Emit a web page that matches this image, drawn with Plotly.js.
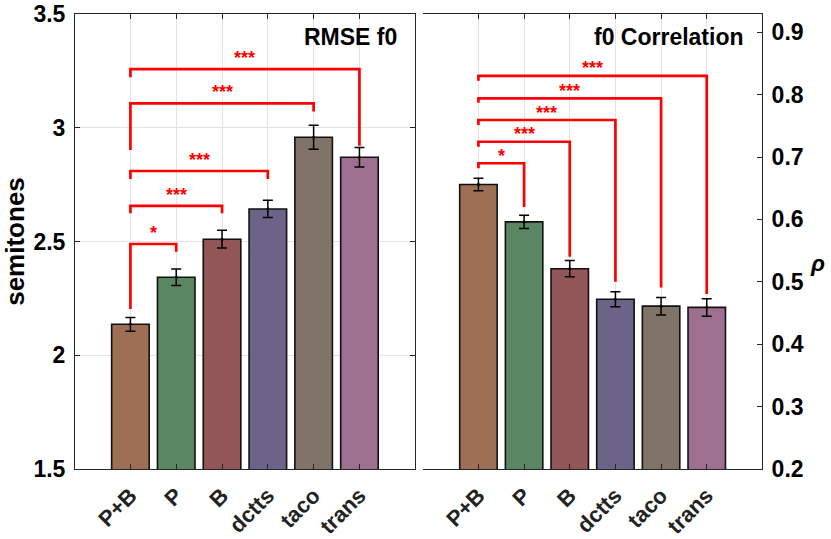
<!DOCTYPE html>
<html>
<head>
<meta charset="utf-8">
<script src="https://cdn.plot.ly/plotly-3.0.1.min.js"></script>
<style>
  html, body { margin: 0; padding: 0; background: #fff; }
  #graph { width: 831px; height: 539px; }
</style>
</head>
<body>
<div id="graph"></div>
<script>
/* ---------------- DATA ---------------- */
const systems = ["P+B", "P", "B", "dctts", "taco", "trans"];
const barColors = ["#9d7056", "#5a8662", "#925558", "#6c6488", "#807367", "#9e708f"];

// RMSE f0 (semitones)
const rmseMean = [2.136, 2.343, 2.510, 2.643, 2.958, 2.870];
const rmseErr  = [0.030, 0.036, 0.039, 0.038, 0.053, 0.043];

// f0 correlation (rho)
const corrMean = [0.656, 0.596, 0.521, 0.472, 0.461, 0.459];
const corrErr  = [0.010, 0.0105, 0.013, 0.012, 0.014, 0.014];

// significance brackets: P+B against P, B, dctts, taco, trans
const sigStars = ["*", "***", "***", "***", "***"];
const rmseSigTop   = [2.489, 2.657, 2.810, 3.107, 3.258];
const rmseSigLeft  = [2.203, 2.624, 2.775, 2.902, 3.222];
const rmseSigRight = [2.455, 2.624, 2.775, 3.071, 2.921];
const corrSigTop   = [0.690, 0.7245, 0.7593, 0.794, 0.830];
const corrSigLeft  = [0.682, 0.7165, 0.7513, 0.787, 0.8223];
const corrSigRight = [0.620, 0.540, 0.500, 0.491, 0.4804];

/* ---------------- STYLE ---------------- */
const FONT = "Liberation Sans, Arial, sans-serif";
const AXC = "#262626";
const GRID = "#e3e3e3";
const RED = "#ff0000";

/* ---------------- TRACES ---------------- */
const traces = [];

function addPanel(means, errs, xa, ya, sigTop, sigLeft, sigRight) {
  traces.push({
    type: "bar",
    x: systems,
    y: means,
    width: 0.82,
    xaxis: xa, yaxis: ya,
    marker: { color: barColors, line: { color: "#111", width: 1.6 } },
    hoverinfo: "skip"
  });
  traces.push({
    type: "scatter",
    mode: "markers",
    x: systems,
    y: means,
    xaxis: xa, yaxis: ya,
    marker: { color: "#000", size: 3 },
    error_y: { type: "data", array: errs, visible: true, color: "#000", thickness: 1.5, width: 5 },
    hoverinfo: "skip"
  });
  sigTop.forEach((top, i) => {
    const other = systems[i + 1];
    traces.push({
      type: "scatter",
      mode: "lines",
      x: [systems[0], systems[0], other, other],
      y: [sigLeft[i], top, top, sigRight[i]],
      xaxis: xa, yaxis: ya,
      line: { color: RED, width: 2.7 },
      hoverinfo: "skip"
    });
  });
}

addPanel(rmseMean, rmseErr, "x", "y", rmseSigTop, rmseSigLeft, rmseSigRight);
addPanel(corrMean, corrErr, "x2", "y3", corrSigTop, corrSigLeft, corrSigRight);

/* ---------------- ANNOTATIONS ---------------- */
const annotations = [];

function starNotes(tops, xref, yref, shift) {
  tops.forEach((top, i) => {
    annotations.push({
      xref, yref,
      x: (i + 1) / 2, y: top,
      text: sigStars[i],
      showarrow: false,
      yanchor: "middle",
      yshift: shift,
      font: { family: FONT, size: 18, color: RED, weight: "bold" }
    });
  });
}
starNotes(rmseSigTop, "x", "y", 11);
starNotes(corrSigTop, "x2", "y3", 7.5);

annotations.push({
  xref: "paper", yref: "paper", x: 0.4714, y: 0.95,
  xanchor: "right", yanchor: "middle", showarrow: false,
  text: "RMSE f0",
  font: { family: FONT, size: 23, color: "#000", weight: "bold" }
});
annotations.push({
  xref: "paper", yref: "paper", x: 0.9763, y: 0.95,
  xanchor: "right", yanchor: "middle", showarrow: false,
  text: "f0 Correlation",
  font: { family: FONT, size: 23, color: "#000", weight: "bold" }
});
annotations.push({
  xref: "paper", yref: "paper", x: 1.081, y: 0.452,
  xanchor: "center", yanchor: "middle", showarrow: false,
  text: "<b><i>ρ</i></b>",
  font: { family: FONT, size: 23, color: "#000" }
});

/* ---------------- LAYOUT ---------------- */
const tickFont = { family: FONT, size: 23, color: "#000", weight: "bold" };

const xBase = {
  type: "category",
  categoryorder: "array",
  categoryarray: systems,
  range: [-1.21, 6.21],
  tickangle: -45,
  tickfont: { family: FONT, size: 22, color: "#222", weight: "bold" },
  ticklabelstandoff: 4,
  showgrid: true, gridcolor: GRID, gridwidth: 1,
  showline: true, linecolor: AXC, linewidth: 1,
  mirror: "ticks", ticks: "inside", ticklen: 5, tickcolor: AXC,
  zeroline: false, fixedrange: true
};

const layout = {
  width: 831, height: 539,
  margin: { l: 75, r: 68.7, t: 14, b: 70 },
  paper_bgcolor: "#fff",
  plot_bgcolor: "#fff",
  showlegend: false,
  barmode: "overlay",
  font: { family: FONT, color: "#000" },
  xaxis: Object.assign({}, xBase, { domain: [0, 0.4947], anchor: "y" }),
  xaxis2: Object.assign({}, xBase, { domain: [0.5068, 1], anchor: "y2" }),
  yaxis: {
    domain: [0, 1], anchor: "x",
    range: [1.5, 3.5],
    tickvals: [1.5, 2, 2.5, 3, 3.5],
    ticktext: ["1.5", "2", "2.5", "3", "3.5"],
    tickfont: tickFont,
    ticklabelstandoff: 4,
    showgrid: true, gridcolor: GRID, gridwidth: 1,
    showline: true, linecolor: AXC, linewidth: 1,
    mirror: "ticks", ticks: "inside", ticklen: 5, tickcolor: AXC,
    zeroline: false, fixedrange: true,
    title: { text: "semitones", font: { family: FONT, size: 26, color: "#000", weight: "bold" }, standoff: 8 }
  },
  // hidden left axis of the right panel (only ticks and grid)
  yaxis2: {
    domain: [0, 1], anchor: "x2",
    range: [0, 1],
    tickvals: [0.2, 0.4, 0.6, 0.8],
    showticklabels: false,
    showgrid: true, gridcolor: GRID, gridwidth: 1,
    showline: true, linecolor: AXC, linewidth: 1,
    ticks: "inside", ticklen: 5, tickcolor: AXC,
    zeroline: false, fixedrange: true
  },
  yaxis3: {
    overlaying: "y2", anchor: "x2", side: "right",
    range: [0.2, 0.9292],
    tickvals: [0.2, 0.3, 0.4, 0.5, 0.6, 0.7, 0.8, 0.9],
    ticktext: ["0.2", "0.3", "0.4", "0.5", "0.6", "0.7", "0.8", "0.9"],
    tickfont: tickFont,
    ticklabelstandoff: 4,
    showgrid: false,
    showline: true, linecolor: AXC, linewidth: 1,
    ticks: "inside", ticklen: 5, tickcolor: AXC,
    zeroline: false, fixedrange: true
  },
  annotations
};

Plotly.newPlot("graph", traces, layout, { displayModeBar: false, responsive: false });
</script>
</body>
</html>
